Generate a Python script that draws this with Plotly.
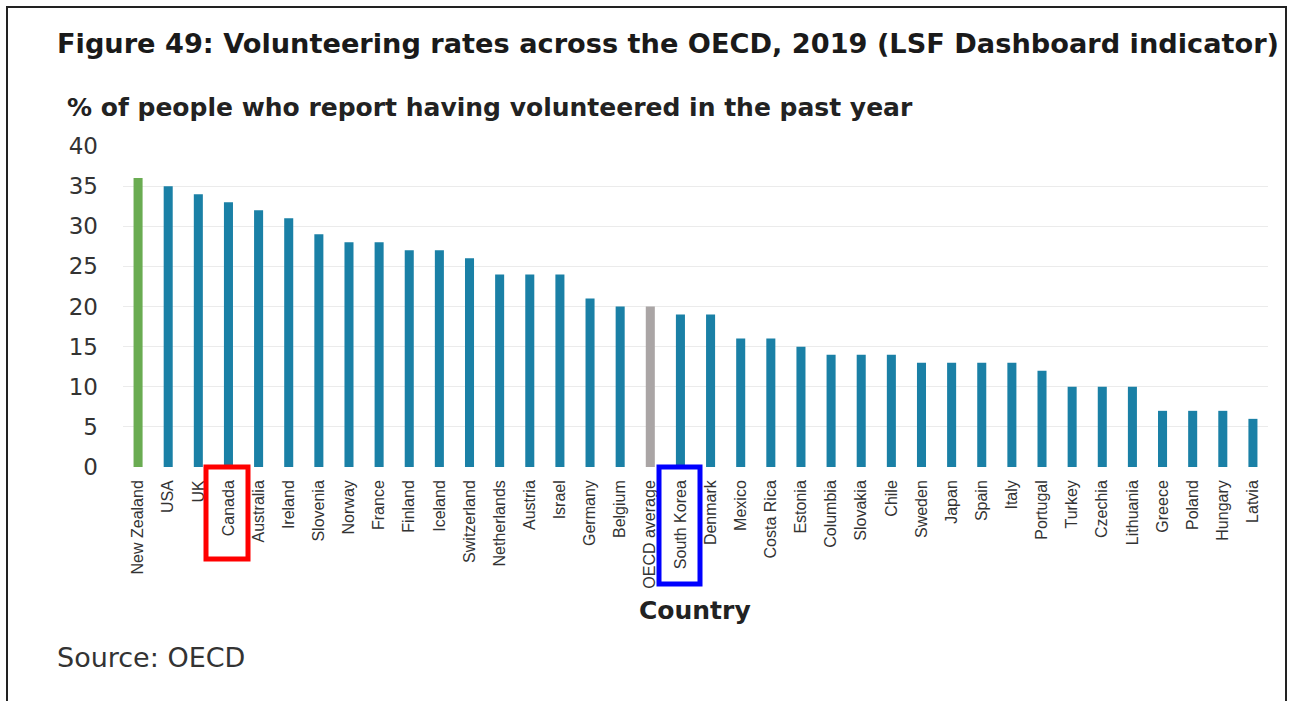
import plotly.graph_objects as go

# Volunteering rates, 2019 (% of people reporting volunteering in the past year)
countries = [
    "New Zealand", "USA", "UK", "Canada", "Australia", "Ireland", "Slovenia",
    "Norway", "France", "Finland", "Iceland", "Switzerland", "Netherlands",
    "Austria", "Israel", "Germany", "Belgium", "OECD average", "South Korea",
    "Denmark", "Mexico", "Costa Rica", "Estonia", "Columbia", "Slovakia",
    "Chile", "Sweden", "Japan", "Spain", "Italy", "Portugal", "Turkey",
    "Czechia", "Lithuania", "Greece", "Poland", "Hungary", "Latvia",
]
rates = [
    36, 35, 34, 33, 32, 31, 29,
    28, 28, 27, 27, 26, 24,
    24, 24, 21, 20, 20, 19,
    19, 16, 16, 15, 14, 14,
    14, 13, 13, 13, 13, 12, 10,
    10, 10, 7, 7, 7, 6,
]
y_ticks = [0, 5, 10, 15, 20, 25, 30, 35, 40]

BLUE = "#1a80a6"
GREEN = "#6aac52"
GREY = "#aaa5a5"
bar_colors = [
    GREEN if c == "New Zealand" else GREY if c == "OECD average" else BLUE
    for c in countries
]

W, H = 1291, 701
L, R = 123, 1268      # plot area, pixels
T, B = 146, 467


def px(x):
    return (x - L) / (R - L)


def py(y):
    return (B - y) / (B - T)


fig = go.Figure(
    go.Bar(
        x=countries,
        y=rates,
        marker=dict(color=bar_colors, line=dict(width=0)),
        width=0.3,
        hoverinfo="x+y",
    )
)

ARIAL = "Arial, 'Liberation Sans', sans-serif"
WIDE = "'DejaVu Sans', Verdana, sans-serif"

fig.update_layout(
    width=W,
    height=H,
    margin=dict(l=L, r=W - R, t=T, b=H - B, pad=0),
    paper_bgcolor="white",
    plot_bgcolor="white",
    showlegend=False,
    font=dict(family=ARIAL, color="#333333"),
    xaxis=dict(
        type="category",
        tickangle=-90,
        tickfont=dict(size=16, color="#333333", family=ARIAL),
        showgrid=False,
        showline=False,
        ticks="",
        ticklen=0,
        ticklabelstandoff=9,
        range=[-0.5, len(countries) - 0.5],
    ),
    yaxis=dict(
        range=[0, 40],
        tickvals=y_ticks,
        tickfont=dict(size=23, color="#333333", family=WIDE),
        showgrid=True,
        gridcolor="#ebebeb",
        gridwidth=1,
        zeroline=False,
        showline=False,
        ticks="",
        ticklabelstandoff=24,
    ),
)

annotations = [
    dict(
        text="<b>Figure 49: Volunteering rates across the OECD, 2019 (LSF Dashboard indicator)</b>",
        x=px(55), y=py(43), xanchor="left", yanchor="middle",
        font=dict(size=27.2, color="#1a1a1a", family=WIDE),
    ),
    dict(
        text="<b>% of people who report having volunteered in the past year</b>",
        x=px(65), y=py(107), xanchor="left", yanchor="middle",
        font=dict(size=25, color="#222222", family=WIDE),
    ),
    dict(
        text="<b>Country</b>",
        x=px(695), y=py(610), xanchor="center", yanchor="middle",
        font=dict(size=25, color="#222222", family=WIDE),
    ),
    dict(
        text="Source: OECD",
        x=px(55), y=py(657), xanchor="left", yanchor="middle",
        font=dict(size=27, color="#333333", family=WIDE),
    ),
]
for a in annotations:
    a.update(xref="paper", yref="paper", showarrow=False)
fig.update_layout(annotations=annotations)

shapes = [
    # outer frame
    dict(type="rect", x0=px(7), x1=px(1286), y0=py(7), y1=py(720),
         line=dict(color="#222222", width=2)),
    # highlight boxes around two labels
    dict(type="rect", x0=px(206), x1=px(248), y0=py(467), y1=py(559),
         line=dict(color="#ff0000", width=5)),
    dict(type="rect", x0=px(659), x1=px(700), y0=py(467), y1=py(584),
         line=dict(color="#0000ff", width=5)),
]
for s in shapes:
    s.update(xref="paper", yref="paper", layer="above")
fig.update_layout(shapes=shapes)

fig.write_html("out.html")
